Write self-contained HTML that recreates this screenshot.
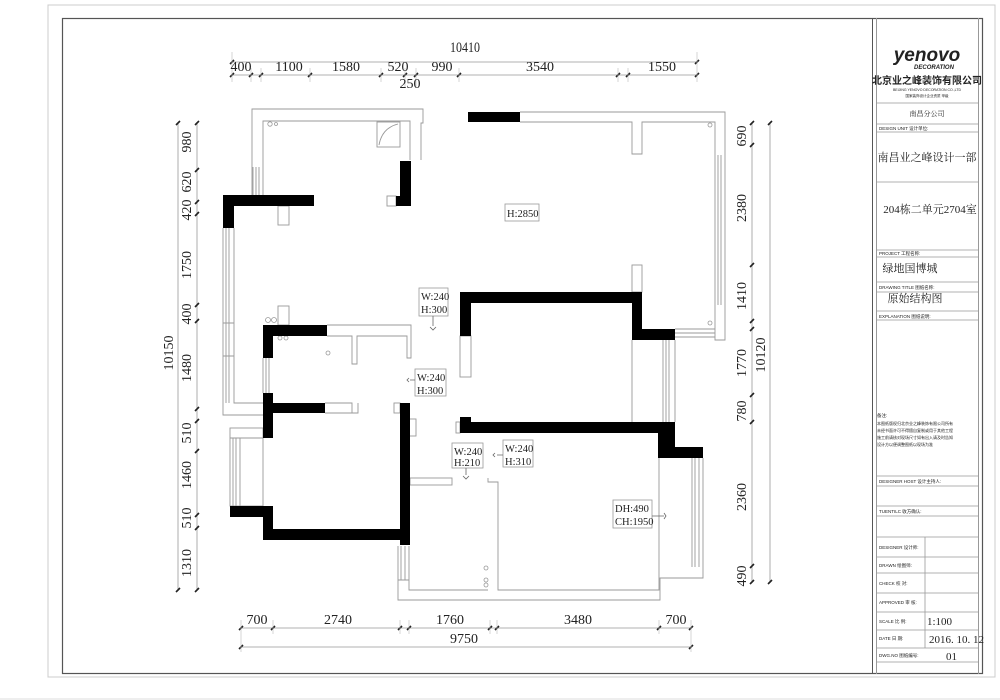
<!DOCTYPE html>
<html><head><meta charset="utf-8"><style>
html,body{margin:0;padding:0;background:#fff;width:1000px;height:700px;overflow:hidden}
svg text{font-family:"Liberation Serif","Noto Serif CJK SC",serif;fill:#222}
.s{font-family:"Liberation Sans","Noto Sans CJK SC",sans-serif}
</style></head><body>
<svg width="1000" height="700" viewBox="0 0 1000 700" xmlns="http://www.w3.org/2000/svg">
<rect x="0" y="0" width="1000" height="700" fill="#fff"/>
<!-- frames -->
<rect x="48" y="5" width="947" height="672" fill="none" stroke="#ccc" stroke-width="1"/>
<line x1="0" y1="699" x2="1000" y2="699" stroke="#ddd"/>
<rect x="62.5" y="18.5" width="920" height="655" fill="none" stroke="#555" stroke-width="1.2"/>
<line x1="872.5" y1="18" x2="872.5" y2="674" stroke="#555"/>
<line x1="876.5" y1="18" x2="876.5" y2="674" stroke="#999"/>
<line x1="978.5" y1="18" x2="978.5" y2="674" stroke="#999"/>

<!-- title block -->
<g stroke="#999" stroke-width="0.8">
<line x1="877" y1="103" x2="978" y2="103"/><line x1="877" y1="124" x2="978" y2="124"/>
<line x1="877" y1="132" x2="978" y2="132"/><line x1="877" y1="182" x2="978" y2="182"/>
<line x1="877" y1="250" x2="978" y2="250"/><line x1="877" y1="257" x2="978" y2="257"/>
<line x1="877" y1="282" x2="978" y2="282"/><line x1="877" y1="292" x2="978" y2="292"/>
<line x1="877" y1="311" x2="978" y2="311"/><line x1="877" y1="320" x2="978" y2="320"/>
<line x1="877" y1="476" x2="978" y2="476"/><line x1="877" y1="486" x2="978" y2="486"/>
<line x1="877" y1="506" x2="978" y2="506"/><line x1="877" y1="516" x2="978" y2="516"/>
<line x1="877" y1="537" x2="978" y2="537"/><line x1="877" y1="557" x2="978" y2="557"/>
<line x1="877" y1="573" x2="978" y2="573"/><line x1="877" y1="593" x2="978" y2="593"/>
<line x1="877" y1="612" x2="978" y2="612"/><line x1="877" y1="630" x2="978" y2="630"/>
<line x1="877" y1="648" x2="978" y2="648"/><line x1="877" y1="662" x2="978" y2="662"/>
<line x1="925" y1="537" x2="925" y2="648"/>
</g>
<text x="927" y="61" text-anchor="middle" class="s" font-size="19" font-style="italic" font-weight="bold" fill="#111">yenovo</text>
<text x="934" y="69" text-anchor="middle" class="s" font-size="6" font-style="italic" font-weight="bold">DECORATION</text>
<text x="927" y="84" text-anchor="middle" class="s" font-size="10" font-weight="bold">北京业之峰装饰有限公司</text>
<text x="927" y="91" text-anchor="middle" class="s" font-size="3.5" fill="#666">BEIJING YENOVO DECORATION CO.,LTD</text>
<text x="927" y="97" text-anchor="middle" class="s" font-size="3.5" fill="#666">国家装饰设计企业资质 甲级</text>
<text x="927" y="116" text-anchor="middle" font-size="7" fill="#555">南昌分公司</text>
<text x="879" y="130" class="s" font-size="4.5" fill="#888">DESIGN UNIT       设计单位:</text>
<text x="927" y="161" text-anchor="middle" font-size="11">南昌业之峰设计一部</text>
<text x="930" y="213" text-anchor="middle" font-size="11">204栋二单元2704室</text>
<text x="879" y="255" class="s" font-size="4.5" fill="#888">PROJECT           工程名称:</text>
<text x="910" y="272" text-anchor="middle" font-size="11">绿地国博城</text>
<text x="879" y="289" class="s" font-size="4.5" fill="#888">DRAWING TITLE     图纸名称:</text>
<text x="915" y="302" text-anchor="middle" font-size="11">原始结构图</text>
<text x="879" y="318" class="s" font-size="4.5" fill="#888">EXPLANATION       图纸说明:</text>
<text x="877" y="417" class="s" font-size="4.5" fill="#555">备注:</text>
<text x="877" y="425" class="s" font-size="4" fill="#666">本图纸版权归北京业之峰装饰有限公司所有</text>
<text x="877" y="432" class="s" font-size="4" fill="#666">未经书面许可不得擅自复制或用于其他工程</text>
<text x="877" y="439" class="s" font-size="4" fill="#666">施工前请核对现场尺寸如有出入请及时告知</text>
<text x="877" y="446" class="s" font-size="4" fill="#666">设计方以便调整图纸以现场为准</text>
<text x="879" y="483" class="s" font-size="4.5" fill="#888">DESIGNER HOST     设计主持人:</text>
<text x="879" y="513" class="s" font-size="4.5" fill="#888">TUENTILC   收方确认:</text>
<text x="879" y="549" class="s" font-size="4.5" fill="#888">DESIGNER  设计师:</text>
<text x="879" y="567" class="s" font-size="4.5" fill="#888">DRAWN     绘图师:</text>
<text x="879" y="585" class="s" font-size="4.5" fill="#888">CHECK     校 对:</text>
<text x="879" y="604" class="s" font-size="4.5" fill="#888">APPROVED  审 核:</text>
<text x="879" y="623" class="s" font-size="4.5" fill="#888">SCALE     比 例:</text>
<text x="879" y="640" class="s" font-size="4.5" fill="#888">DATE      日 期:</text>
<text x="879" y="657" class="s" font-size="4.5" fill="#888">DWG.NO           图纸编号:</text>
<text x="927" y="625" font-size="11">1:100</text>
<text x="929" y="643" font-size="11">2016. 10. 12</text>
<text x="946" y="660" font-size="11">01</text>

<!-- dimensions -->
<g stroke="#999" stroke-width="0.8" fill="none">
<line x1="232" y1="62" x2="697" y2="62"/>
<line x1="232" y1="75" x2="697" y2="75"/>
<line x1="241" y1="628" x2="691" y2="628"/>
<line x1="241" y1="647" x2="691" y2="647"/>
<line x1="178" y1="123" x2="178" y2="590"/>
<line x1="197" y1="123" x2="197" y2="590"/>
<line x1="752" y1="123" x2="752" y2="582"/>
<line x1="770" y1="123" x2="770" y2="582"/>
</g>
<g stroke="#222" stroke-width="1.6">
<path d="M230 64l4-4M695 64l4-4"/>
<path d="M230 77l4-4M249 77l4-4M259 77l4-4M308 77l4-4M379 77l4-4M403 77l4-4M414 77l4-4M457 77l4-4M616 77l4-4M626 77l4-4M695 77l4-4"/>
<path d="M239 630l4-4M271 630l4-4M398 630l4-4M407 630l4-4M488 630l4-4M495 630l4-4M657 630l4-4M689 630l4-4"/>
<path d="M239 649l4-4M689 649l4-4"/>
<path d="M176 125l4-4M176 592l4-4"/>
<path d="M195 125l4-4M195 172l4-4M195 204l4-4M195 216l4-4M195 307l4-4M195 323l4-4M195 411l4-4M195 423l4-4M195 453l4-4M195 517l4-4M195 530l4-4M195 592l4-4"/>
<path d="M750 125l4-4M750 147l4-4M750 267l4-4M750 323l4-4M750 331l4-4M750 397l4-4M750 424l4-4M750 568l4-4M750 584l4-4"/>
<path d="M768 125l4-4M768 584l4-4"/>
</g>
<g stroke="#bbb" stroke-width="0.6">
<path d="M232 52v30M251 68v14M261 68v14M310 68v14M381 68v14M405 68v20M416 68v20M459 68v14M618 68v14M628 68v14M697 52v30"/>
<path d="M241 620v32M273 620v14M400 620v14M409 620v14M490 620v14M497 620v14M659 620v14M691 620v32"/>
</g>
<g font-size="15">
<text x="465" y="52" text-anchor="middle" transform="translate(465 0) scale(0.8 1) translate(-465 0)">10410</text>
<g transform="translate(0 0)">
<text x="241" y="71" text-anchor="middle" font-size="14">400</text>
<text x="289" y="71" text-anchor="middle" font-size="14">1100</text>
<text x="346" y="71" text-anchor="middle" font-size="14">1580</text>
<text x="398" y="71" text-anchor="middle" font-size="14">520</text>
<text x="410" y="88" text-anchor="middle" font-size="14">250</text>
<text x="442" y="71" text-anchor="middle" font-size="14">990</text>
<text x="540" y="71" text-anchor="middle" font-size="14">3540</text>
<text x="662" y="71" text-anchor="middle" font-size="14">1550</text>
<text x="257" y="624" text-anchor="middle" font-size="14">700</text>
<text x="338" y="624" text-anchor="middle" font-size="14">2740</text>
<text x="450" y="624" text-anchor="middle" font-size="14">1760</text>
<text x="578" y="624" text-anchor="middle" font-size="14">3480</text>
<text x="676" y="624" text-anchor="middle" font-size="14">700</text>
<text x="464" y="643" text-anchor="middle" font-size="14">9750</text>
</g>
</g>
<g font-size="14" text-anchor="middle">
<text transform="translate(191 142) rotate(-90)">980</text>
<text transform="translate(191 182) rotate(-90)">620</text>
<text transform="translate(191 210) rotate(-90)">420</text>
<text transform="translate(191 265) rotate(-90)">1750</text>
<text transform="translate(191 314) rotate(-90)">400</text>
<text transform="translate(191 368) rotate(-90)">1480</text>
<text transform="translate(191 433) rotate(-90)">510</text>
<text transform="translate(191 475) rotate(-90)">1460</text>
<text transform="translate(191 518) rotate(-90)">510</text>
<text transform="translate(191 563) rotate(-90)">1310</text>
<text transform="translate(173 353) rotate(-90)">10150</text>
<text transform="translate(746 136) rotate(-90)">690</text>
<text transform="translate(746 208) rotate(-90)">2380</text>
<text transform="translate(746 296) rotate(-90)">1410</text>
<text transform="translate(746 363) rotate(-90)">1770</text>
<text transform="translate(746 411) rotate(-90)">780</text>
<text transform="translate(746 497) rotate(-90)">2360</text>
<text transform="translate(746 576) rotate(-90)">490</text>
<text transform="translate(765 355) rotate(-90)">10120</text>
</g>

<!-- thin walls -->
<g fill="none" stroke="#999" stroke-width="0.9">
<path d="M252 195V109H423V123H421V160M263 195V121H410V160"/>
<rect x="377" y="122" width="23" height="25"/>
<path d="M379 145Q382 128 398 124"/>
<path d="M253 167v28M256 167v28M259 167v28"/>
<rect x="387" y="196" width="9" height="10"/>
<rect x="278" y="206" width="11" height="19"/>
<path d="M223 228V415H263M234 228V403H263"/>
<path d="M226 228v175M229 228v175M223 323h11M223 356h11"/>
<rect x="278" y="306" width="11" height="19"/>
<path d="M327 325H411V358H407V336H357V364H352V336H327"/>
<path d="M325 403H352V413H358V403H358M325 413H358V403"/>
<path d="M263 358v35M266 358v35M269 358v35"/>
<rect x="230" y="428" width="33" height="78"/>
<path d="M233 438v68M236 438v68M240 438v68M230 438h33"/>
<path d="M520 112H725V340H715V122H642V154H632V122H520"/>
<path d="M718 155v150M721 155v150"/>
<rect x="632" y="265" width="10" height="27"/>
<rect x="460" y="336" width="11" height="41"/>
<path d="M632 340V422M663 340V422M666 340V422M669 340V422M675 340V422"/>
<path d="M675 329H715M675 333H715M675 337H715"/>
<rect x="456" y="422" width="4" height="11"/>
<path d="M692 458v109M695 458v109M699 458v109M703 458V578H660V600H398V546"/>
<path d="M659 458V590H498V482H488V478"/>
<path d="M409 546V590H488"/>
<path d="M401 546v34M405 546v34M398 580h11"/>
<rect x="410" y="478" width="42" height="7"/>
<rect x="406" y="419" width="10" height="17"/>
<rect x="394" y="403" width="6" height="10"/>
</g>
<g fill="none" stroke="#999" stroke-width="0.8">
<circle cx="270" cy="124" r="2.2"/><circle cx="276" cy="124" r="1.5"/>
<circle cx="268" cy="320" r="2.5"/><circle cx="274" cy="320" r="2.5"/>
<circle cx="280" cy="338" r="2"/><circle cx="286" cy="338" r="2"/>
<circle cx="328" cy="353" r="2"/>
<circle cx="710" cy="125" r="2"/><circle cx="710" cy="323" r="2"/>
<circle cx="486" cy="580" r="2"/><circle cx="486" cy="585" r="2"/>
<circle cx="486" cy="568" r="2"/>
</g>

<!-- black walls -->
<g fill="#000">
<rect x="400" y="161" width="11" height="45"/>
<rect x="396" y="196" width="15" height="10"/>
<rect x="223" y="195" width="91" height="11"/>
<rect x="223" y="195" width="11" height="33"/>
<rect x="263" y="325" width="64" height="11"/>
<rect x="263" y="325" width="10" height="33"/>
<rect x="263" y="393" width="10" height="45"/>
<rect x="263" y="403" width="62" height="10"/>
<rect x="400" y="403" width="10" height="142"/>
<rect x="230" y="506" width="43" height="11"/>
<rect x="263" y="506" width="10" height="34"/>
<rect x="263" y="529" width="146" height="11"/>
<rect x="468" y="112" width="52" height="10"/>
<rect x="460" y="292" width="182" height="11"/>
<rect x="460" y="292" width="11" height="44"/>
<rect x="632" y="292" width="10" height="48"/>
<rect x="632" y="329" width="43" height="11"/>
<rect x="460" y="422" width="215" height="11"/>
<rect x="460" y="417" width="11" height="6"/>
<rect x="658" y="422" width="17" height="36"/>
<rect x="658" y="447" width="45" height="11"/>
</g>

<!-- labels -->
<g fill="#fff" stroke="#999" stroke-width="0.8">
<rect x="419" y="288" width="29" height="28"/>
<rect x="415" y="369" width="31" height="27"/>
<rect x="505" y="204" width="34" height="17"/>
<rect x="452" y="443" width="31" height="25"/>
<rect x="503" y="440" width="30" height="27"/>
<rect x="613" y="500" width="39" height="28"/>
</g>
<g fill="none" stroke="#666" stroke-width="0.8">
<path d="M433 316v10M430 327l3 3 3-3"/>
<path d="M415 380h-5M409 378l-2 2 2 2"/>
<path d="M466 468v7M463 476l3 3 3-3"/>
<path d="M503 455h-6M495 453l-2 2 2 2"/>
<path d="M652 516h12M664 513l2 3-2 3"/>
</g>
<g font-size="10.5" fill="#333">
<text x="421" y="300">W:240</text><text x="421" y="313">H:300</text>
<text x="417" y="381">W:240</text><text x="417" y="394">H:300</text>
<text x="507" y="217">H:2850</text>
<text x="454" y="455">W:240</text><text x="454" y="466">H:210</text>
<text x="505" y="452">W:240</text><text x="505" y="465">H:310</text>
<text x="615" y="512">DH:490</text><text x="615" y="525">CH:1950</text>
</g>
</svg>
</body></html>
